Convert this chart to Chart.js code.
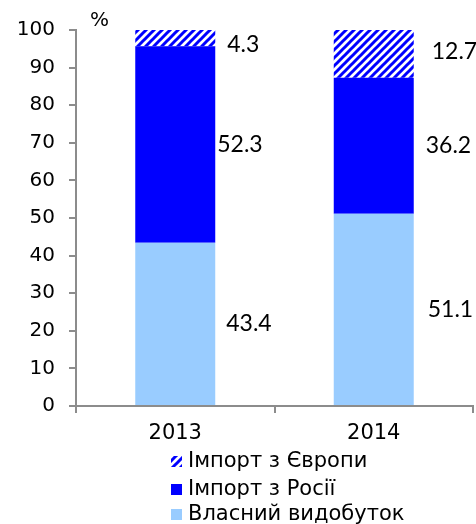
<!DOCTYPE html>
<html>
<head>
<meta charset="utf-8">
<script src="https://cdn.jsdelivr.net/npm/chart.js@4"></script>
<style>
  html, body { margin: 0; padding: 0; background: #fff; }
</style>
</head>
<body>
<canvas id="chart" width="476" height="524"></canvas>
<script>
const years = ['2013', '2014'];
const ownProduction = [43.4, 51.1];
const importRussia = [52.3, 36.2];
const importEurope = [4.3, 12.7];
const seriesNames = ['Власний видобуток', 'Імпорт з Росії', 'Імпорт з Європи'];
const unitLabel = '%';

// small nudges for value labels (px), per series then per year
const labelDx = [[11, 14], [2, 12], [12, 18]];
const labelDy = [[0, 0], [0, 0], [6, -2]];

const axisColor = '#8c8c8c';
const tickFont = { family: 'DejaVu Sans', size: 20 };

function hatch(color) {
  const c = document.createElement('canvas');
  c.width = 8;
  c.height = 8;
  const g = c.getContext('2d');
  g.fillStyle = '#fff';
  g.fillRect(0, 0, 8, 8);
  g.strokeStyle = color;
  g.lineWidth = 3;
  g.beginPath();
  g.moveTo(-2, 10); g.lineTo(10, -2);
  g.moveTo(-2, 2); g.lineTo(2, -2);
  g.moveTo(6, 10); g.lineTo(10, 6);
  g.stroke();
  return g.createPattern(c, 'repeat');
}

const extras = {
  id: 'extras',
  afterDatasetsDraw(chart) {
    const ctx = chart.ctx;
    const area = chart.chartArea;
    ctx.save();
    ctx.fillStyle = '#000';
    ctx.textBaseline = 'middle';
    ctx.textAlign = 'left';

    ctx.font = '23px Lato';
    chart.data.datasets.forEach((ds, i) => {
      chart.getDatasetMeta(i).data.forEach((bar, j) => {
        const p = bar.getProps(['x', 'y', 'base', 'width'], true);
        const x = p.x + p.width / 2 + labelDx[i][j];
        const y = (p.y + p.base) / 2 + labelDy[i][j];
        ctx.fillText(ds.data[j].toFixed(1), x, y);
      });
    });

    ctx.font = '20px "DejaVu Sans"';
    ctx.fillText(unitLabel, area.left + 14, area.top - 9);

    // legend, top row is the last series
    const rows = [56, 84, 109];
    ctx.font = '21px "DejaVu Sans"';
    chart.data.datasets.slice().reverse().forEach((ds, k) => {
      const y = area.bottom + rows[k];
      ctx.fillStyle = ds.backgroundColor;
      ctx.fillRect(171, y - 6, 11, 11);
      ctx.fillStyle = '#000';
      ctx.fillText(ds.label, 188, y);
    });
    ctx.restore();
  }
};

function draw() {
  new Chart(document.getElementById('chart'), {
    type: 'bar',
    data: {
      labels: years,
      datasets: [
        { label: seriesNames[0], data: ownProduction, backgroundColor: '#99ccff' },
        { label: seriesNames[1], data: importRussia, backgroundColor: '#0000ff' },
        { label: seriesNames[2], data: importEurope, backgroundColor: hatch('#0000ff') },
      ],
    },
    options: {
      responsive: false,
      animation: false,
      events: [],
      categoryPercentage: 1,
      barPercentage: 0.403,
      layout: { padding: { top: 30, right: 3, bottom: 73, left: 0 } },
      plugins: { legend: { display: false }, tooltip: { enabled: false } },
      scales: {
        x: {
          stacked: true,
          grid: { offset: true, drawOnChartArea: false, tickLength: 7, color: axisColor, lineWidth: 2 },
          border: { color: axisColor, width: 2 },
          ticks: { color: '#000', font: { family: 'DejaVu Sans', size: 21 }, padding: 8, maxRotation: 0 },
          afterFit: (s) => { s.height = 45; },
        },
        y: {
          stacked: true,
          min: 0,
          max: 100,
          grid: { drawOnChartArea: false, tickLength: 7, color: axisColor, lineWidth: 2 },
          border: { color: axisColor, width: 2 },
          ticks: { stepSize: 10, color: '#000', font: tickFont, padding: 14 },
          afterFit: (s) => { s.width = 76; },
        },
      },
    },
    plugins: [extras],
  });
}

Promise.all([
  document.fonts.load('23px Lato'),
  document.fonts.load('20px "DejaVu Sans"'),
]).then(draw, draw);
</script>
</body>
</html>
